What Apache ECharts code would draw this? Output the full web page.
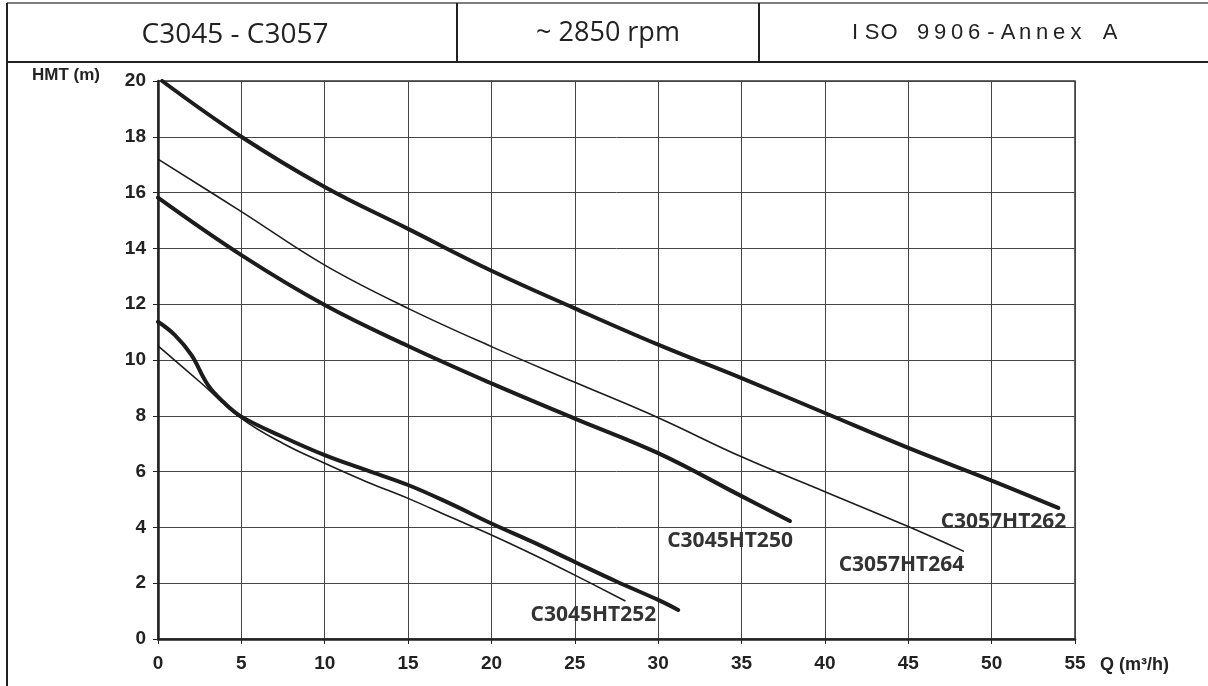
<!DOCTYPE html>
<html>
<head>
<meta charset="utf-8">
<script src="https://cdn.jsdelivr.net/npm/echarts@6/dist/echarts.min.js"></script>
<style>
html,body{margin:0;padding:0;background:#fff;}
#chart{width:1208px;height:686px;}
</style>
</head>
<body>
<div id="chart"></div>
<script>
// ---- data ----
const headerTexts = ['C3045 - C3057', '~ 2850 rpm', 'ISO 9906-Annex A'];
const xTicks = [0, 5, 10, 15, 20, 25, 30, 35, 40, 45, 50, 55];
const yTicks = [0, 2, 4, 6, 8, 10, 12, 14, 16, 18, 20];
const yAxisTitle = 'HMT (m)';
const xAxisTitle = 'Q (m³/h)';

const q262 = [0.25, 5, 10, 15, 20, 25, 30, 35, 40, 45, 50, 54];
const h262 = [20.0, 18.0, 16.2, 14.7, 13.2, 11.85, 10.55, 9.35, 8.1, 6.85, 5.68, 4.7];

const q264 = [0, 5, 10, 15, 20, 25, 30, 35, 40, 45, 48.3];
const h264 = [17.2, 15.32, 13.4, 11.85, 10.48, 9.2, 7.93, 6.53, 5.28, 4.03, 3.15];

const q250 = [0, 5, 10, 15, 20, 25, 30, 35, 37.9];
const h250 = [15.82, 13.76, 11.97, 10.5, 9.16, 7.9, 6.66, 5.12, 4.23];

const q252 = [0, 1, 2, 3, 4, 5, 7.5, 10, 12.5, 15, 17.5, 20, 22.5, 25, 27.5, 30, 31.2];
const h252 = [11.37, 10.9, 10.18, 9.1, 8.45, 7.97, 7.24, 6.59, 6.05, 5.52, 4.86, 4.14, 3.47, 2.76, 2.06, 1.4, 1.04];

const q252b = [0, 2.5, 5, 7.5, 10, 12.5, 15, 17.5, 20, 22.5, 25, 28];
const h252b = [10.51, 9.22, 7.91, 7.01, 6.3, 5.64, 5.04, 4.38, 3.73, 3.03, 2.29, 1.37];

const seriesNames = ['C3057HT262', 'C3057HT264', 'C3045HT250', 'C3045HT252', ''];

// ---- build ----
function pairs(xs, ys) { return xs.map((x, i) => [x, ys[i]]); }

const curveColor = '#1c1c1c';
const labelFont = { fontFamily: 'Open Sans', fontWeight: 'bold', fontSize: 21, color: '#333' };

function curve(name, data, width, labelOffset) {
  const s = {
    name: name || 'curve',
    type: 'line',
    data: data,
    showSymbol: false,
    smooth: 0.4,
    lineStyle: { color: curveColor, width: width, cap: 'round' },
    silent: true,
    z: 5
  };
  if (labelOffset) {
    s.markPoint = {
      symbol: 'circle',
      symbolSize: 1,
      itemStyle: { color: 'rgba(0,0,0,0)' },
      silent: true,
      data: [{ type: 'max', valueIndex: 0 }],
      label: Object.assign({
        show: true,
        position: 'inside',
        formatter: name,
        align: 'right',
        verticalAlign: 'middle',
        offset: labelOffset
      }, labelFont)
    };
  }
  return s;
}

const chart = echarts.init(document.getElementById('chart'), null, { renderer: 'canvas' });

const isoChars = headerTexts[2].split('');
const isoElems = isoChars.map((c, i) => ({
  type: 'text',
  x: 855 + i * 17,
  y: 33,
  style: {
    text: c, fontFamily: 'Liberation Sans', fontSize: 22, fill: '#222',
    align: 'center', verticalAlign: 'middle'
  }
}));

const axisFont = { fontFamily: 'Liberation Sans', fontWeight: 'bold', fontSize: 19, color: '#222' };

chart.setOption({
  animation: false,
  backgroundColor: '#fff',
  grid: {
    left: 158, right: 133, top: 81, bottom: 47,
    show: true, borderColor: '#333', borderWidth: 1.5
  },
  xAxis: {
    type: 'value', min: 0, max: 55, interval: 5,
    axisLine: { show: true, onZero: false, lineStyle: { color: '#222', width: 2.5 } },
    axisTick: { show: true, length: 5, lineStyle: { color: '#222', width: 1 } },
    axisLabel: Object.assign({ margin: 15, formatter: v => xTicks.includes(v) ? String(v) : '' }, axisFont),
    splitLine: { show: true, lineStyle: { color: '#444', width: 1 } }
  },
  yAxis: {
    type: 'value', min: 0, max: 20, interval: 2,
    axisLine: { show: true, onZero: false, lineStyle: { color: '#222', width: 2.5 } },
    axisTick: { show: true, length: 5, lineStyle: { color: '#222', width: 1 } },
    axisLabel: Object.assign({ margin: 12, formatter: v => yTicks.includes(v) ? String(v) : '' }, axisFont),
    splitLine: { show: true, lineStyle: { color: '#444', width: 1 } }
  },
  series: [
    curve(seriesNames[0], pairs(q262, h262), 4, [8, 14]),
    curve(seriesNames[1], pairs(q264, h264), 1.6, [1, 14]),
    curve(seriesNames[2], pairs(q250, h250), 4, [3, 20]),
    curve(seriesNames[3], pairs(q252, h252), 4, [-22, 5]),
    curve(seriesNames[4], pairs(q252b, h252b), 1.6, null)
  ],
  graphic: [
    { type: 'line', shape: { x1: 7, y1: 3, x2: 1208, y2: 3 }, style: { stroke: '#555', lineWidth: 1.5 } },
    { type: 'line', shape: { x1: 7, y1: 62, x2: 1208, y2: 62 }, style: { stroke: '#222', lineWidth: 2 } },
    { type: 'line', shape: { x1: 7, y1: 3, x2: 7, y2: 686 }, style: { stroke: '#222', lineWidth: 2 } },
    { type: 'line', shape: { x1: 457, y1: 3, x2: 457, y2: 62 }, style: { stroke: '#222', lineWidth: 2 } },
    { type: 'line', shape: { x1: 759, y1: 3, x2: 759, y2: 62 }, style: { stroke: '#222', lineWidth: 2 } },
    { type: 'text', x: 235, y: 35, style: { text: headerTexts[0], fontFamily: 'Open Sans', fontSize: 28, fill: '#222', align: 'center', verticalAlign: 'middle' } },
    { type: 'text', x: 608, y: 33, style: { text: headerTexts[1], fontFamily: 'Open Sans', fontSize: 27, fill: '#222', align: 'center', verticalAlign: 'middle' } },
    ...isoElems,
    { type: 'text', x: 32, y: 75, style: { text: yAxisTitle, fontFamily: 'Liberation Sans', fontWeight: 'bold', fontSize: 17, fill: '#222', align: 'left', verticalAlign: 'middle' } },
    { type: 'text', x: 1100, y: 665, style: { text: xAxisTitle, fontFamily: 'Liberation Sans', fontWeight: 'bold', fontSize: 18, fill: '#222', align: 'left', verticalAlign: 'middle' } }
  ]
});
</script>
</body>
</html>
